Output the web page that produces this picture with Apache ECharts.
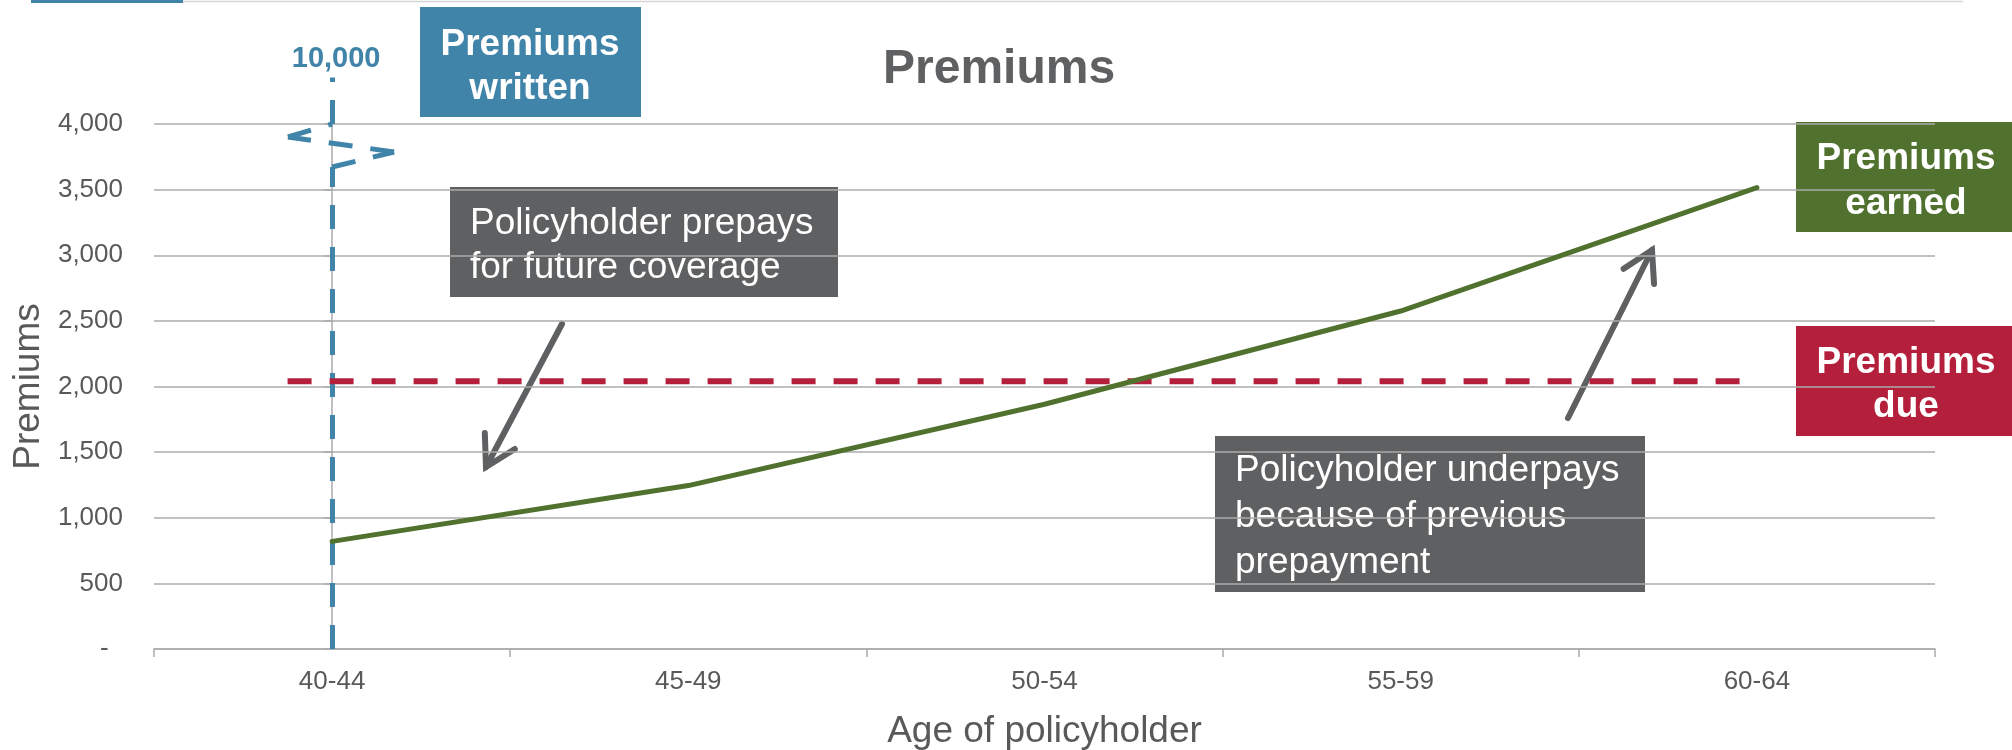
<!DOCTYPE html>
<html>
<head>
<meta charset="utf-8">
<title>Premiums</title>
<script src="https://cdn.jsdelivr.net/npm/echarts@6.0.0/dist/echarts.min.js"></script>
<style>
  html, body { margin: 0; padding: 0; background: #ffffff; }
  #chart { width: 2012px; height: 750px; }
</style>
</head>
<body>
<div id="chart"></div>
<script>
// --- data ---
const ageGroups = ['40-44', '45-49', '50-54', '55-59', '60-64'];
const premiumsEarned = [820, 1245, 1865, 2575, 3515];
const premiumsDue = 2040;
// the due line starts a little left of the first group and stops short of the last
const dueLineX = [-0.125, 3.955];
const premiumsWritten = 10000;
// written premium is off the scale: a dashed line with a break symbol (x in group units)
const writtenX = [0, 0, 0.174, -0.124, 0, 0];
const writtenY = [0, 3672, 3787, 3901, 4000, 4355];
const yTicks = [0, 500, 1000, 1500, 2000, 2500, 3000, 3500, 4000];

const FONT = "'Liberation Sans', Arial, sans-serif";
const COLORS = {
  blue: '#4184a9',
  green: '#51722f',
  red: '#b41f3b',
  gray: '#5f6062',
  text: '#595959',
  grid: '#ababab'
};

function box(x, y, w, h, fill, lines, textX, align, bold) {
  const els = [{
    type: 'rect',
    shape: { x: x, y: y, width: w, height: h },
    style: { fill: fill }
  }];
  lines.forEach(function (ln) {
    els.push({
      type: 'text',
      x: textX,
      y: ln[1] + 4,
      style: {
        text: ln[0],
        fill: '#ffffff',
        font: (bold ? 'bold ' : '') + '37px ' + FONT,
        textAlign: align,
        textVerticalAlign: 'middle'
      }
    });
  });
  return els;
}

function arrow(x0, y0, x1, y1) {
  const a = Math.atan2(y0 - y1, x0 - x1);
  const len = 34;
  const spread = Math.PI / 6;
  const style = { stroke: COLORS.gray, lineWidth: 6, lineCap: 'round', lineJoin: 'miter', fill: null };
  return [
    { type: 'polyline', shape: { points: [[x0, y0], [x1, y1]] }, style: style },
    {
      type: 'polyline',
      shape: {
        points: [
          [x1 + len * Math.cos(a + spread), y1 + len * Math.sin(a + spread)],
          [x1, y1],
          [x1 + len * Math.cos(a - spread), y1 + len * Math.sin(a - spread)]
        ]
      },
      style: style
    }
  ];
}

const graphics = [].concat(
  [
    { type: 'rect', shape: { x: 31, y: 0, width: 152, height: 3 }, style: { fill: COLORS.blue } },
    { type: 'line', shape: { x1: 183, y1: 1.5, x2: 1963, y2: 1.5 }, style: { stroke: '#d6d6d6', lineWidth: 1.5 } }
  ],
  box(420, 7, 221, 110, COLORS.blue, [['Premiums', 41], ['written', 85]], 530, 'center', true),
  box(1796, 122, 220, 110, COLORS.green, [['Premiums', 155], ['earned', 200]], 1906, 'center', true),
  box(1796, 326, 220, 110, COLORS.red, [['Premiums', 359], ['due', 403]], 1906, 'center', true),
  box(450, 187, 388, 110, COLORS.gray,
    [['Policyholder prepays', 220], ['for future coverage', 264]], 470, 'left', false),
  box(1215, 436, 430, 156, COLORS.gray,
    [['Policyholder underpays', 467], ['because of previous', 513], ['prepayment', 559]], 1235, 'left', false),
  arrow(562, 324, 486, 467),
  arrow(1568, 418, 1652, 250)
);

// each segment of the written line restarts its dash pattern, so draw them as separate lines
const writtenSegments = [];
for (let i = 0; i < writtenX.length - 1; i++) {
  writtenSegments.push({
    coords: [[writtenX[i], writtenY[i]], [writtenX[i + 1], writtenY[i + 1]]]
  });
}
const last = writtenX.length - 1;

const chart = echarts.init(document.getElementById('chart'), null, { renderer: 'canvas' });

const option = {
  animation: false,
  backgroundColor: '#ffffff',
  textStyle: { fontFamily: FONT },
  title: {
    text: 'Premiums',
    left: 878,
    top: 41,
    textStyle: { fontFamily: FONT, fontSize: 48, fontWeight: 'bold', color: COLORS.gray }
  },
  grid: {
    left: 154,
    right: 77,
    top: 124,
    bottom: 101,
    containLabel: false,
    outerBoundsMode: 'none'
  },
  xAxis: [
    {
      type: 'category',
      data: ageGroups,
      axisLine: { lineStyle: { color: COLORS.grid, width: 1.5 } },
      axisTick: { show: true, length: 8, lineStyle: { color: COLORS.grid, width: 1.5 } },
      axisLabel: { fontSize: 26, color: COLORS.text, margin: 20, fontFamily: FONT },
      splitLine: { show: false },
      name: 'Age of policyholder',
      nameLocation: 'middle',
      nameGap: 64,
      nameTextStyle: { fontSize: 37, color: COLORS.text, fontFamily: FONT }
    },
    {
      type: 'value',
      min: -0.5,
      max: 4.5,
      show: false
    }
  ],
  yAxis: {
    type: 'value',
    min: yTicks[0],
    max: yTicks[yTicks.length - 1],
    interval: yTicks[1] - yTicks[0],
    axisLine: { show: true, lineStyle: { color: COLORS.grid, width: 1.5 } },
    axisTick: { show: true, length: 8, lineStyle: { color: COLORS.grid, width: 1.5 } },
    axisLabel: {
      fontSize: 26,
      color: COLORS.text,
      margin: 31,
      fontFamily: FONT,
      formatter: function (v) {
        return v === 0 ? '-  ' : v.toLocaleString('en-US');
      }
    },
    splitLine: { show: true, lineStyle: { color: COLORS.grid, width: 1.5 } },
    name: 'Premiums',
    nameLocation: 'middle',
    nameGap: 96,
    nameTextStyle: { fontSize: 37, color: COLORS.text, fontFamily: FONT }
  },
  series: [
    {
      name: 'Premiums written',
      type: 'lines',
      coordinateSystem: 'cartesian2d',
      xAxisIndex: 1,
      yAxisIndex: 0,
      clip: false,
      z: 2,
      lineStyle: { color: COLORS.blue, width: 5, type: [24, 18], opacity: 1, curveness: 0 },
      data: writtenSegments
    },
    {
      name: 'Premiums written label',
      type: 'scatter',
      xAxisIndex: 1,
      clip: false,
      symbolSize: 1,
      z: 2,
      itemStyle: { color: COLORS.blue, opacity: 0 },
      label: {
        show: true,
        position: 'top',
        distance: 3,
        offset: [4, 0],
        formatter: premiumsWritten.toLocaleString('en-US'),
        fontSize: 29,
        fontWeight: 'bold',
        color: COLORS.blue,
        opacity: 1,
        textBorderWidth: 0,
        fontFamily: FONT
      },
      data: [[writtenX[last], writtenY[last]]]
    },
    {
      name: 'Premiums due',
      type: 'line',
      xAxisIndex: 1,
      symbol: 'none',
      z: 3,
      lineStyle: { color: COLORS.red, width: 6, type: [24, 18], cap: 'butt' },
      data: dueLineX.map(function (x) { return [x, premiumsDue]; })
    },
    {
      name: 'Premiums earned',
      type: 'line',
      xAxisIndex: 0,
      symbol: 'none',
      z: 4,
      lineStyle: { color: COLORS.green, width: 5, cap: 'round' },
      data: premiumsEarned
    }
  ],
  graphic: graphics
};

chart.setOption(option);
</script>
</body>
</html>
